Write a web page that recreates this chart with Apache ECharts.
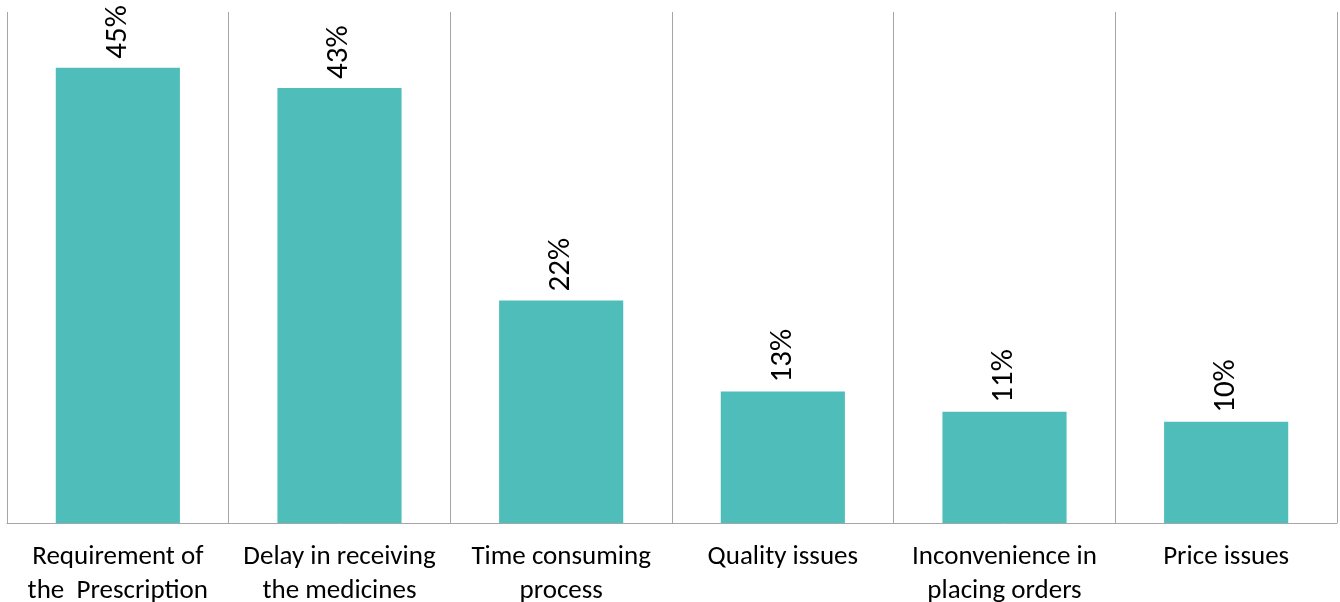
<!DOCTYPE html>
<html lang="en">
<head>
    <meta charset="UTF-8">
    <title>Problems with online pharmacies</title>
    <script src="https://cdn.jsdelivr.net/npm/echarts@6/dist/echarts.min.js"></script>
    <style>
        html, body { margin: 0; padding: 0; background: #fff; }
        #main { width: 1340px; height: 602px; }
    </style>
</head>
<body>
<div id="main"></div>
<script>
    // categories and values (percent)
    const categories = [
        'Requirement of\nthe  Prescription',
        'Delay in receiving\nthe medicines',
        'Time consuming\nprocess',
        'Quality issues',
        'Inconvenience in\nplacing orders',
        'Price issues'
    ];
    const shares = [45, 43, 22, 13, 11, 10];

    const FONT = 'Carlito, Lato, "Open Sans", sans-serif';

    let myChart = echarts.init(document.getElementById('main'));

    let option = {
        animation: false,
        grid: { left: 7, right: 3, top: 12, bottom: 79, outerBoundsMode: 'none', containLabel: false },
        xAxis: {
            type: 'category',
            data: categories,
            axisLine: { show: true, lineStyle: { color: '#a6a6a6', width: 1 } },
            axisTick: { show: false },
            splitLine: { show: true, lineStyle: { color: '#a6a6a6', width: 1 } },
            axisLabel: {
                interval: 0,
                color: '#000',
                fontFamily: FONT,
                fontSize: 27,
                lineHeight: 34,
                margin: 17
            }
        },
        yAxis: {
            type: 'value',
            min: 0,
            max: 50.5,
            show: false,
            splitLine: { show: false }
        },
        series: [{
            type: 'bar',
            data: shares,
            barCategoryGap: '44%',
            itemStyle: { color: '#4fbdb9' },
            label: {
                show: true,
                position: 'top',
                distance: 9,
                rotate: 90,
                align: 'left',
                verticalAlign: 'middle',
                color: '#000',
                fontFamily: FONT,
                fontSize: 31,
                formatter: p => p.value + '%'
            }
        }]
    };

    myChart.setOption(option);
</script>
</body>
</html>
